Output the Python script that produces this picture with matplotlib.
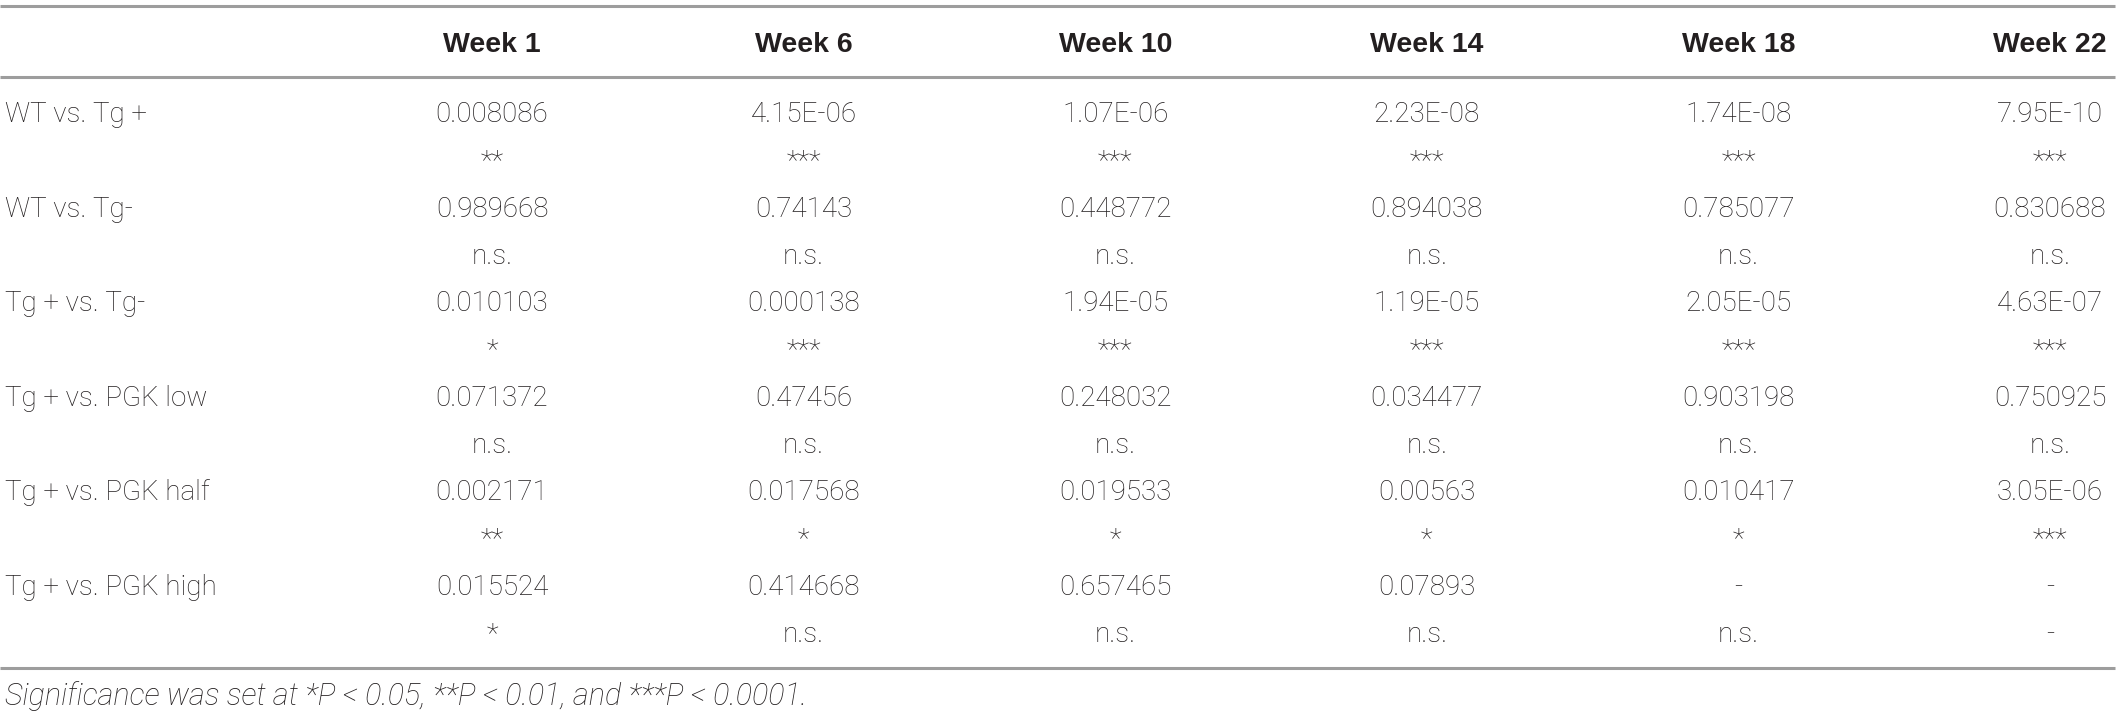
import matplotlib
matplotlib.use("Agg")
import matplotlib.pyplot as plt

# table contents
weeks = ["Week 1", "Week 6", "Week 10", "Week 14", "Week 18", "Week 22"]
comparisons = ["WT vs. Tg +", "WT vs. Tg-", "Tg + vs. Tg-", "Tg + vs. PGK low",
               "Tg + vs. PGK half", "Tg + vs. PGK high"]
p_values = [
    ["0.008086", "4.15E-06", "1.07E-06", "2.23E-08", "1.74E-08", "7.95E-10"],
    ["0.989668", "0.74143", "0.448772", "0.894038", "0.785077", "0.830688"],
    ["0.010103", "0.000138", "1.94E-05", "1.19E-05", "2.05E-05", "4.63E-07"],
    ["0.071372", "0.47456", "0.248032", "0.034477", "0.903198", "0.750925"],
    ["0.002171", "0.017568", "0.019533", "0.00563", "0.010417", "3.05E-06"],
    ["0.015524", "0.414668", "0.657465", "0.07893", "-", "-"],
]
signif = [
    ["**", "***", "***", "***", "***", "***"],
    ["n.s.", "n.s.", "n.s.", "n.s.", "n.s.", "n.s."],
    ["*", "***", "***", "***", "***", "***"],
    ["n.s.", "n.s.", "n.s.", "n.s.", "n.s.", "n.s."],
    ["**", "*", "*", "*", "*", "***"],
    ["*", "n.s.", "n.s.", "n.s.", "n.s.", "-"],
]
footnote = "Significance was set at *P < 0.05, **P < 0.01, and ***P < 0.0001."

# layout (pixels)
W, H = 2118, 717
x0, dx = 492, 311.6
row_y0 = 122
row_dy = 94.6
sig_dy = 47
txt_col = "#231f20"
line_col = "#9d9d9d"
fs = 20

fig = plt.figure(figsize=(W / 100, H / 100), dpi=100)
ax = fig.add_axes([0, 0, 1, 1])
ax.set_xlim(0, W)
ax.set_ylim(H, 0)
ax.axis("off")

fam = ["Roboto", "DejaVu Sans"]
fam_b = ["Liberation Sans", "DejaVu Sans"]

for y in [6, 77, 668]:
    ax.plot([0, 2115], [y, y], color=line_col, lw=2.2, solid_capstyle="butt")

for j, w in enumerate(weeks):
    ax.text(x0 + j * dx, 52, w, ha="center", va="baseline", fontsize=20.5,
            fontweight="bold", family=fam_b, color=txt_col)

for i, lab in enumerate(comparisons):
    yb = row_y0 + i * row_dy
    ax.text(5, yb, lab, ha="left", va="baseline", fontsize=fs,
            fontweight="light", family=fam, color=txt_col)
    for j in range(len(weeks)):
        ax.text(x0 + j * dx, yb, p_values[i][j], ha="center", va="baseline",
                fontsize=fs, fontweight="light", family=fam, color=txt_col)
        ax.text(x0 + j * dx, yb + sig_dy, signif[i][j], ha="center", va="baseline",
                fontsize=fs, fontweight="light", family=fam, color=txt_col)

ax.text(5, 705, footnote, ha="left", va="baseline", fontsize=22,
        fontweight="light", style="italic", family=fam, color=txt_col)

fig.savefig("out.png", dpi=100)
